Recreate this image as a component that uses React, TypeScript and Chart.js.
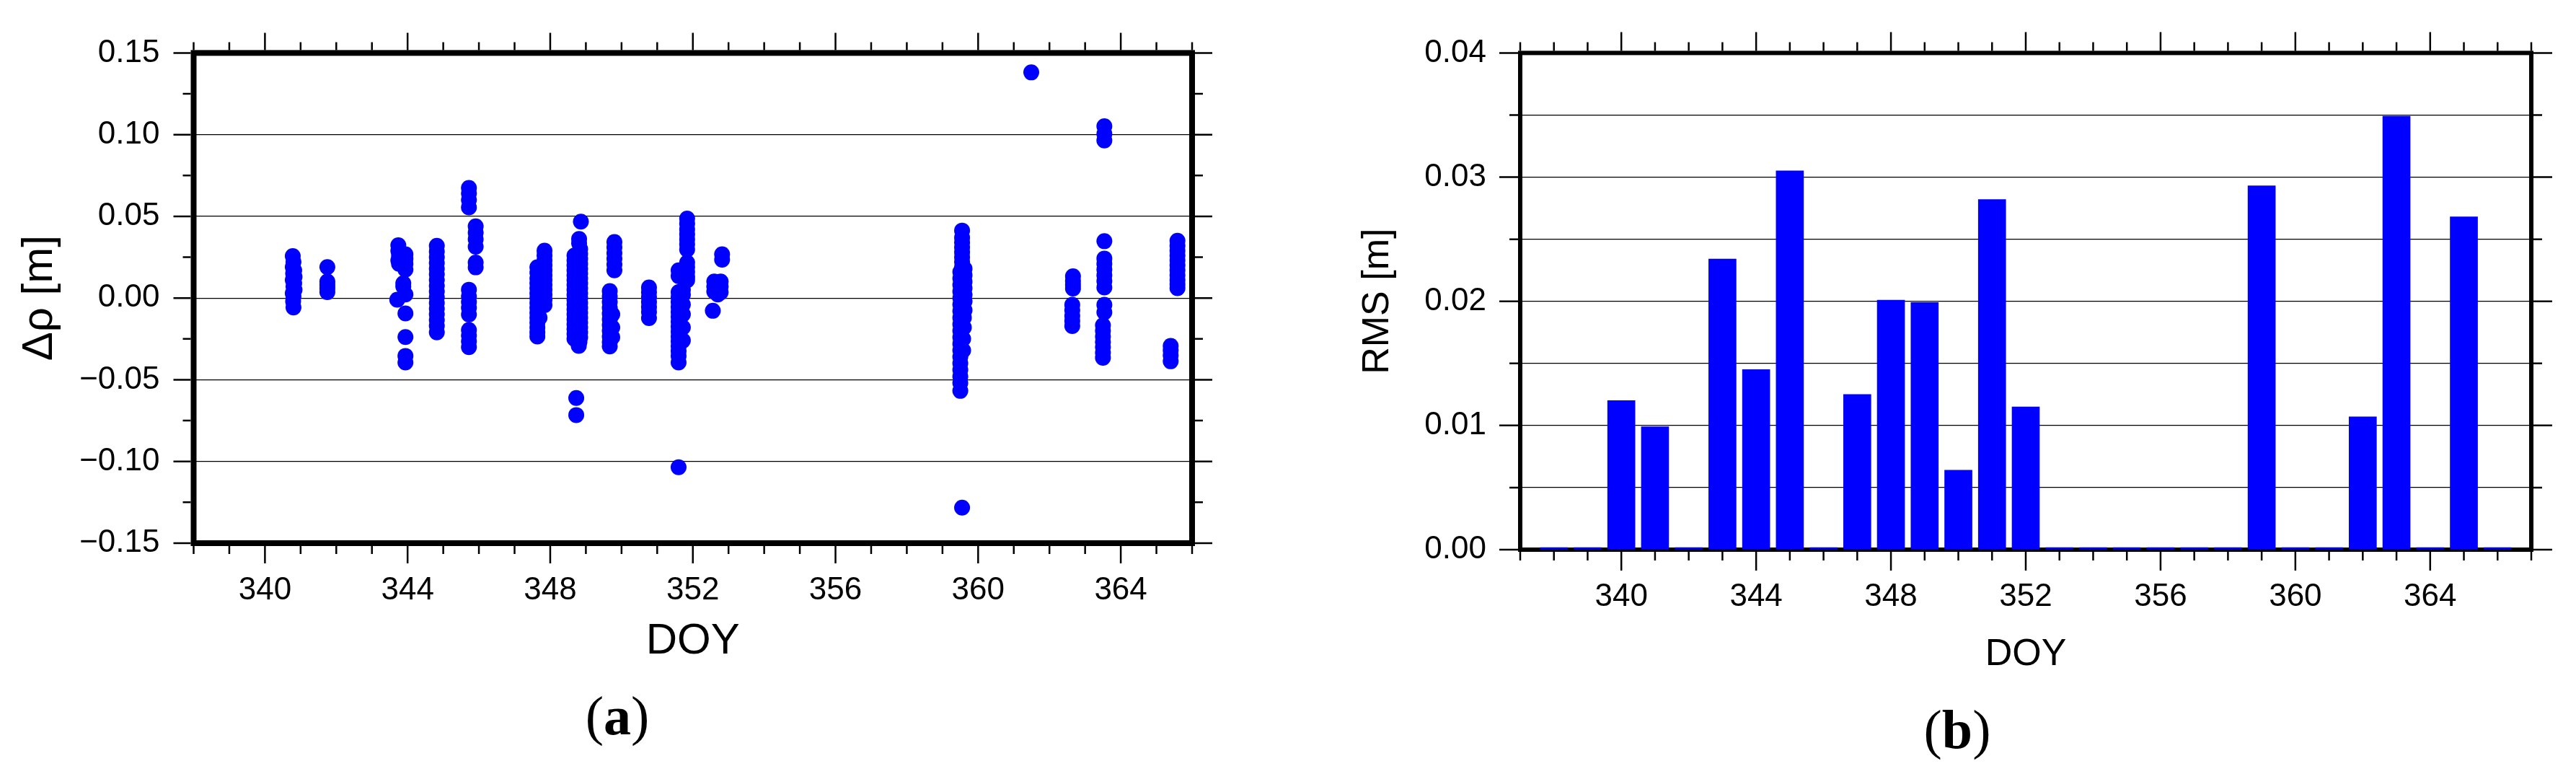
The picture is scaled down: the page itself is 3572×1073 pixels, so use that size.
import React, { useEffect, useRef } from "react";
import { Chart, registerables } from "chart.js";

Chart.register(...registerables);

// ---------------- data ----------------
const doyTickLabels = [340, 344, 348, 352, 356, 360, 364];
const residualTickLabels = [-0.15, -0.1, -0.05, 0, 0.05, 0.1, 0.15];
const rmsTickLabels = [0, 0.01, 0.02, 0.03, 0.04];

// Δρ residuals [doy, metres], read per observation day
const residualsDoy340: [number, number][] = [
  [340.78, 0.0257], [340.80, 0.022], [340.78, 0.019], [340.82, 0.017], [340.79, 0.015],
  [340.83, 0.013], [340.78, 0.011], [340.82, 0.009], [340.80, 0.007], [340.83, 0.005],
  [340.78, 0.003], [340.80, 0.001], [340.79, -0.002], [340.80, -0.0058],
];
const residualsDoy341: [number, number][] = [
  [341.75, 0.019], [341.75, 0.0101], [341.75, 0.008], [341.75, 0.006], [341.75, 0.0036],
];
const residualsDoy343: [number, number][] = [
  [343.74, 0.0323], [343.74, 0.029], [343.76, 0.026], [343.74, 0.023], [343.76, 0.021],
  [343.94, 0.0268], [343.94, 0.024], [343.94, 0.021], [343.94, 0.0174], [343.88, 0.009],
  [343.88, 0.007], [343.94, 0.0022], [343.71, -0.001], [343.94, -0.0094], [343.94, -0.0239],
  [343.94, -0.0354], [343.94, -0.0394],
];
const residualsDoy344: [number, number][] = [
  [344.82, 0.032], [344.82, 0.0285], [344.82, 0.025], [344.82, 0.0215], [344.82, 0.018],
  [344.82, 0.0145], [344.82, 0.011], [344.82, 0.0075], [344.82, 0.004], [344.82, 0.0005],
  [344.82, -0.003], [344.82, -0.0065], [344.82, -0.01], [344.82, -0.0135], [344.82, -0.017],
  [344.82, -0.021],
];
const residualsDoy345: [number, number][] = [
  [345.72, 0.0674], [345.72, 0.064], [345.72, 0.06], [345.72, 0.0555], [345.91, 0.0439],
  [345.91, 0.04], [345.91, 0.036], [345.91, 0.0314], [345.91, 0.0217], [345.91, 0.0188],
  [345.72, 0.0051], [345.72, 0.001], [345.72, -0.0025], [345.72, -0.006], [345.72, -0.0101],
  [345.72, -0.0196], [345.72, -0.023], [345.72, -0.0265], [345.72, -0.03],
];
const residualsDoy347: [number, number][] = [
  [347.84, 0.029], [347.84, 0.026], [347.84, 0.023], [347.84, 0.02], [347.84, 0.017],
  [347.84, 0.014], [347.84, 0.011], [347.84, 0.008], [347.84, 0.005], [347.84, 0.002],
  [347.84, -0.001], [347.84, -0.0043], [347.64, 0.0188], [347.64, 0.0155], [347.64, 0.012],
  [347.64, 0.009], [347.64, 0.006], [347.64, 0.003], [347.64, 0.0], [347.64, -0.003],
  [347.64, -0.006], [347.64, -0.009], [347.64, -0.012], [347.64, -0.015], [347.64, -0.018],
  [347.64, -0.021], [347.64, -0.0235], [347.70, 0.005], [347.70, -0.002], [347.70, -0.012],
];
const residualsDoy348: [number, number][] = [
  [348.86, 0.0468], [348.81, 0.0362], [348.81, 0.0335], [348.84, 0.03], [348.84, 0.027],
  [348.84, 0.024], [348.84, 0.021], [348.84, 0.018], [348.84, 0.015], [348.84, 0.012],
  [348.84, 0.009], [348.84, 0.006], [348.84, 0.003], [348.84, 0.0], [348.84, -0.003],
  [348.84, -0.006], [348.84, -0.009], [348.84, -0.012], [348.84, -0.015], [348.84, -0.018],
  [348.84, -0.021], [348.84, -0.024], [348.82, -0.027], [348.80, -0.0293],
  [348.68, 0.026], [348.68, 0.023], [348.68, 0.02], [348.68, 0.017], [348.68, 0.014],
  [348.68, 0.011], [348.68, 0.008], [348.68, 0.005], [348.68, 0.002], [348.68, -0.001],
  [348.68, -0.004], [348.68, -0.007], [348.68, -0.01], [348.68, -0.013], [348.68, -0.016],
  [348.68, -0.019], [348.68, -0.022], [348.68, -0.025],
  [348.73, -0.0612], [348.73, -0.0716],
];
const residualsDoy349: [number, number][] = [
  [349.80, 0.0343], [349.80, 0.031], [349.80, 0.0275], [349.80, 0.024], [349.80, 0.0205],
  [349.80, 0.017], [349.67, 0.0043], [349.67, 0.001], [349.67, -0.0025], [349.67, -0.006],
  [349.67, -0.0095], [349.67, -0.013], [349.67, -0.0165], [349.67, -0.02], [349.67, -0.0235],
  [349.67, -0.027], [349.67, -0.0296], [349.74, -0.01], [349.74, -0.018], [349.74, -0.024],
];
const residualsDoy350: [number, number][] = [
  [350.77, 0.0065], [350.77, 0.0035], [350.77, 0.0005], [350.77, -0.0025], [350.77, -0.0055],
  [350.77, -0.0085], [350.77, -0.0123],
];
const residualsDoy351: [number, number][] = [
  [351.84, 0.0486], [351.84, 0.0455], [351.84, 0.042], [351.84, 0.039], [351.84, 0.036],
  [351.84, 0.033], [351.84, 0.0297], [351.84, 0.0217], [351.84, 0.019], [351.84, 0.016],
  [351.84, 0.013], [351.84, 0.0109], [351.60, 0.017], [351.60, 0.0135], [351.60, 0.0036],
  [351.60, 0.0005], [351.60, -0.0025], [351.60, -0.0055], [351.60, -0.0085], [351.60, -0.0115],
  [351.60, -0.0145], [351.60, -0.0175], [351.60, -0.0205], [351.60, -0.0235], [351.60, -0.0265],
  [351.60, -0.0295], [351.60, -0.0325], [351.60, -0.0355], [351.60, -0.0394],
  [351.72, 0.005], [351.72, 0.002], [351.72, -0.004], [351.72, -0.01], [351.72, -0.018],
  [351.72, -0.026], [351.60, -0.1035],
];
const residualsDoy352: [number, number][] = [
  [352.82, 0.0268], [352.82, 0.0235], [352.60, 0.0101], [352.78, 0.0101], [352.60, 0.007],
  [352.78, 0.007], [352.60, 0.004], [352.78, 0.0035], [352.70, 0.0022], [352.56, -0.0078],
];
const residualsDoy359: [number, number][] = [
  [359.55, 0.0413], [359.55, 0.037], [359.55, 0.034], [359.55, 0.031], [359.55, 0.028],
  [359.55, 0.025], [359.55, 0.022], [359.55, 0.019], [359.50, 0.016], [359.50, 0.012],
  [359.50, 0.008], [359.50, 0.004], [359.50, 0.0], [359.50, -0.004], [359.50, -0.008],
  [359.50, -0.012], [359.50, -0.016], [359.50, -0.02], [359.50, -0.024], [359.50, -0.028],
  [359.50, -0.032], [359.50, -0.036], [359.50, -0.04], [359.50, -0.044], [359.50, -0.048],
  [359.50, -0.052], [359.50, -0.0568], [359.62, 0.018], [359.62, 0.014], [359.62, 0.01],
  [359.62, 0.006], [359.62, 0.002], [359.62, -0.002], [359.62, -0.0074], [359.60, -0.012],
  [359.60, -0.018], [359.58, -0.025], [359.58, -0.032], [359.55, -0.1283],
];
const residualsDoy361: [number, number][] = [[361.49, 0.1381]];
const residualsDoy362: [number, number][] = [
  [362.66, 0.0133], [362.66, 0.0105], [362.66, 0.008], [362.66, 0.0058], [362.64, -0.0041],
  [362.64, -0.0075], [362.64, -0.011], [362.64, -0.014], [362.64, -0.0171],
];
const residualsDoy363: [number, number][] = [
  [363.54, 0.1051], [363.54, 0.1005], [363.54, 0.0964], [363.54, 0.0348], [363.54, 0.0242],
  [363.54, 0.021], [363.54, 0.0175], [363.54, 0.014], [363.54, 0.0105], [363.54, 0.0065],
  [363.54, -0.0041], [363.54, -0.0087], [363.50, -0.0167], [363.50, -0.02], [363.50, -0.0235],
  [363.50, -0.027], [363.50, -0.03], [363.50, -0.0335], [363.50, -0.0365],
];
const residualsDoy365: [number, number][] = [
  [365.59, 0.0351], [365.59, 0.032], [365.59, 0.029], [365.59, 0.026], [365.59, 0.023],
  [365.59, 0.02], [365.59, 0.017], [365.59, 0.014], [365.59, 0.011], [365.59, 0.0085],
  [365.59, 0.0061], [365.40, -0.0293], [365.40, -0.032], [365.40, -0.035], [365.40, -0.0387],
];

// daily RMS [m]
const rmsDays = [
  338, 339, 340, 341, 342, 343, 344, 345, 346, 347, 348, 349, 350, 351, 352,
  353, 354, 355, 356, 357, 358, 359, 360, 361, 362, 363, 364, 365, 366,
];
const rmsValues = [
  0, 0, 0.012, 0.0099, 0, 0.0234, 0.0145, 0.0305, 0, 0.0125, 0.0201, 0.0199, 0.0064, 0.0282, 0.0115,
  0, 0, 0, 0, 0, 0, 0.0293, 0, 0, 0.0107, 0.0349, 0, 0.0268, 0,
];

// ---------------- styling ----------------
const SANS = '"Liberation Sans", Arial, Helvetica, sans-serif';
const SERIF = '"Liberation Serif", "Times New Roman", serif';
const BLUE = "#0000ff";

const near = (v: number, list: number[]) => list.some((t) => Math.abs(t - v) < 1e-6);
const fmt2 = (v: number) => (v < -1e-9 ? "\u2212" + Math.abs(v).toFixed(2) : Math.abs(v).toFixed(2));

type FrameOpts = {
  frameWidth: number;
  tickWidth: number;
  majorLen: number;
  minorLen: number;
  majorX: number[];
  majorY: number[];
  letter: string;
  capX: number;
  capY: number;
  capSize: number;
};

function makeFramePlugin(o: FrameOpts) {
  return {
    id: "frameTicks",
    beforeDatasetsDraw(chart: any) {
      const { ctx, chartArea: a } = chart;
      const xs = chart.scales.x;
      const ys = chart.scales.y;
      const h = o.frameWidth / 2;
      ctx.save();
      ctx.strokeStyle = "#000";
      ctx.lineWidth = o.tickWidth;
      ctx.lineCap = "butt";
      ctx.beginPath();
      xs.ticks.forEach((t: any) => {
        const p = xs.getPixelForValue(t.value);
        const len = near(t.value, o.majorX) ? o.majorLen : o.minorLen;
        ctx.moveTo(p, a.bottom + h);
        ctx.lineTo(p, a.bottom + h + len);
        ctx.moveTo(p, a.top - h);
        ctx.lineTo(p, a.top - h - len);
      });
      ys.ticks.forEach((t: any) => {
        const p = ys.getPixelForValue(t.value);
        const len = near(t.value, o.majorY) ? o.majorLen : o.minorLen;
        ctx.moveTo(a.left - h, p);
        ctx.lineTo(a.left - h - len, p);
        ctx.moveTo(a.right + h, p);
        ctx.lineTo(a.right + h + len, p);
      });
      ctx.stroke();
      ctx.lineWidth = o.frameWidth;
      ctx.lineJoin = "miter";
      ctx.strokeRect(a.left, a.top, a.right - a.left, a.bottom - a.top);
      ctx.restore();
    },
    afterDraw(chart: any) {
      const ctx = chart.ctx;
      ctx.save();
      ctx.fillStyle = "#000";
      ctx.textBaseline = "alphabetic";
      ctx.textAlign = "left";
      const reg = `${o.capSize}px ${SERIF}`;
      const bold = `bold ${o.capSize}px ${SERIF}`;
      ctx.font = reg;
      const wl = ctx.measureText("(").width;
      const wr = ctx.measureText(")").width;
      ctx.font = bold;
      const wm = ctx.measureText(o.letter).width;
      let x = o.capX - (wl + wm + wr) / 2;
      ctx.font = reg;
      ctx.fillText("(", x, o.capY);
      x += wl;
      ctx.font = bold;
      ctx.fillText(o.letter, x, o.capY);
      x += wm;
      ctx.font = reg;
      ctx.fillText(")", x, o.capY);
      ctx.restore();
    },
  };
}

const LEFT_W = 1780;
const RIGHT_W = 3572 - LEFT_W;
const H = 1073;

export default function App() {
  const leftRef = useRef<HTMLCanvasElement | null>(null);
  const rightRef = useRef<HTMLCanvasElement | null>(null);

  useEffect(() => {
    if (!leftRef.current || !rightRef.current) return;
    Chart.defaults.font.family = SANS;
    Chart.defaults.color = "#000";

    const residualPoints = [
      ...residualsDoy340, ...residualsDoy341, ...residualsDoy343, ...residualsDoy344,
      ...residualsDoy345, ...residualsDoy347, ...residualsDoy348, ...residualsDoy349,
      ...residualsDoy350, ...residualsDoy351, ...residualsDoy352, ...residualsDoy359,
      ...residualsDoy361, ...residualsDoy362, ...residualsDoy363, ...residualsDoy365,
    ].map(([x, y]) => ({ x, y }));

    const left = new Chart(leftRef.current, {
      type: "scatter",
      data: {
        datasets: [
          {
            data: residualPoints,
            pointRadius: 11,
            pointHoverRadius: 11,
            pointBackgroundColor: BLUE,
            pointBorderColor: BLUE,
            pointBorderWidth: 0,
            showLine: false,
          } as any,
        ],
      },
      options: {
        responsive: false,
        animation: false,
        devicePixelRatio: 1,
        events: [],
        layout: { padding: { left: 0, top: 64, right: LEFT_W - 1653, bottom: 0 } },
        plugins: { legend: { display: false }, tooltip: { enabled: false } },
        scales: {
          x: {
            type: "linear",
            min: 338,
            max: 366,
            ticks: {
              stepSize: 1,
              autoSkip: false,
              maxRotation: 0,
              minRotation: 0,
              padding: 39,
              font: { size: 44, family: SANS },
              color: "#000",
              callback: (v: any) => (near(Number(v), doyTickLabels) ? String(Math.round(Number(v))) : ""),
            },
            grid: { display: false, drawTicks: false },
            border: { display: false },
            title: {
              display: true,
              text: "DOY",
              color: "#000",
              font: { size: 60, family: SANS },
              padding: { top: 0, bottom: 148 },
            },
            afterFit: (s: any) => {
              s.height = H - 753;
            },
          },
          y: {
            type: "linear",
            min: -0.15,
            max: 0.15,
            ticks: {
              stepSize: 0.025,
              autoSkip: false,
              padding: 47,
              font: { size: 44, family: SANS },
              color: "#000",
              callback: (v: any) => (near(Number(v), residualTickLabels) ? fmt2(Number(v)) : ""),
            },
            grid: {
              drawTicks: false,
              lineWidth: 1.3,
              color: (c: any) =>
                c.tick && near(c.tick.value, residualTickLabels) ? "#000" : "rgba(0,0,0,0)",
            },
            border: { display: false },
            title: {
              display: true,
              text: "\u0394\u03c1 [m]",
              color: "#000",
              font: { size: 60, family: SANS },
              padding: { top: 19, bottom: 0 },
            },
            afterFit: (s: any) => {
              s.width = 268.5;
            },
          },
        },
      } as any,
      plugins: [
        makeFramePlugin({
          frameWidth: 8,
          tickWidth: 2.5,
          majorLen: 24,
          minorLen: 11,
          majorX: doyTickLabels,
          majorY: residualTickLabels,
          letter: "a",
          capX: 856,
          capY: 1018,
          capSize: 76,
        }) as any,
      ],
    });

    const rmsPoints = rmsDays.map((d, i) => ({ x: d, y: rmsValues[i] }));

    const right = new Chart(rightRef.current, {
      type: "bar",
      data: {
        datasets: [
          {
            data: rmsPoints,
            backgroundColor: BLUE,
            borderWidth: 0,
            barThickness: 38,
            minBarLength: 3,
            clip: false,
          } as any,
        ],
      },
      options: {
        responsive: false,
        animation: false,
        devicePixelRatio: 1,
        events: [],
        layout: { padding: { left: 0, top: 62.5, right: RIGHT_W - (3510 - LEFT_W), bottom: 0 } },
        plugins: { legend: { display: false }, tooltip: { enabled: false } },
        scales: {
          x: {
            type: "linear",
            min: 337,
            max: 367,
            offset: false,
            ticks: {
              stepSize: 1,
              autoSkip: false,
              maxRotation: 0,
              minRotation: 0,
              padding: 39,
              font: { size: 44, family: SANS },
              color: "#000",
              callback: (v: any) => (near(Number(v), doyTickLabels) ? String(Math.round(Number(v))) : ""),
            },
            grid: { display: false, drawTicks: false, offset: false },
            border: { display: false },
            title: {
              display: true,
              text: "DOY",
              color: "#000",
              font: { size: 52, family: SANS },
              padding: { top: 0, bottom: 134 },
            },
            afterFit: (s: any) => {
              s.height = H - 762;
            },
          },
          y: {
            type: "linear",
            min: 0,
            max: 0.04,
            ticks: {
              stepSize: 0.005,
              autoSkip: false,
              padding: 47,
              font: { size: 44, family: SANS },
              color: "#000",
              callback: (v: any) => (near(Number(v), rmsTickLabels) ? Number(v).toFixed(2) : ""),
            },
            grid: { drawTicks: false, lineWidth: 1.2, color: "#000" },
            border: { display: false },
            title: {
              display: true,
              text: "RMS [m]",
              color: "#000",
              font: { size: 52, family: SANS },
              padding: { top: 99, bottom: 0 },
            },
            afterFit: (s: any) => {
              s.width = 2108 - LEFT_W;
            },
          },
        },
      } as any,
      plugins: [
        makeFramePlugin({
          frameWidth: 6,
          tickWidth: 2.5,
          majorLen: 26,
          minorLen: 12,
          majorX: doyTickLabels,
          majorY: rmsTickLabels,
          letter: "b",
          capX: 2714 - LEFT_W,
          capY: 1037,
          capSize: 76,
        }) as any,
      ],
    });

    return () => {
      left.destroy();
      right.destroy();
    };
  }, []);

  return (
    <div
      style={{
        position: "absolute",
        left: 0,
        top: 0,
        width: 3572,
        height: H,
        background: "#fff",
        overflow: "hidden",
      }}
    >
      <canvas
        ref={leftRef}
        width={LEFT_W}
        height={H}
        style={{ position: "absolute", left: 0, top: 0, width: LEFT_W, height: H }}
      />
      <canvas
        ref={rightRef}
        width={RIGHT_W}
        height={H}
        style={{ position: "absolute", left: LEFT_W, top: 0, width: RIGHT_W, height: H }}
      />
    </div>
  );
}
